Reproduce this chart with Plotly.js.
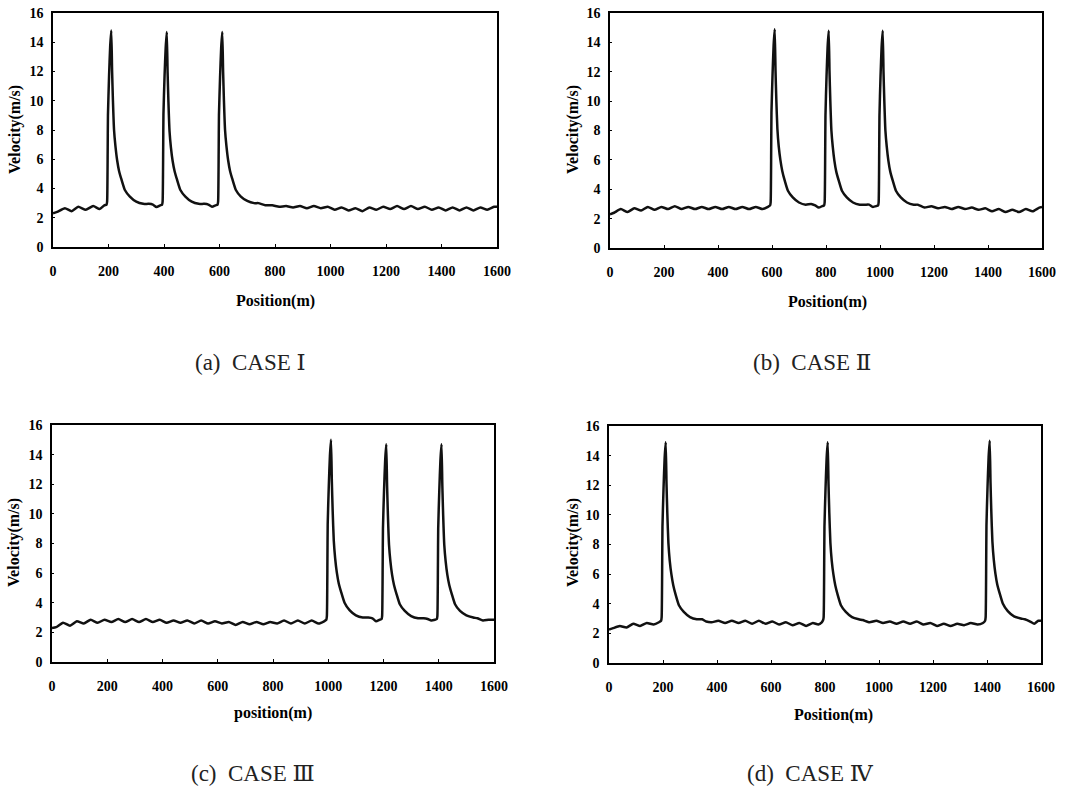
<!DOCTYPE html>
<html>
<head>
<meta charset="utf-8">
<script src="https://cdn.plot.ly/plotly-3.0.1.min.js"></script>
<style>
html,body{margin:0;padding:0;background:#fff;}
#chart{width:1076px;height:788px;}
</style>
</head>
<body>
<div id="chart"></div>
<script>
// ---------- DATA ----------
var xTickVals = [0,200,400,600,800,1000,1200,1400,1600];
var yTickVals = [0,2,4,6,8,10,12,14,16];
var captions = ["(a)  CASE Ⅰ", "(b)  CASE Ⅱ", "(c)  CASE Ⅲ", "(d)  CASE Ⅳ"];
var xTitles = ["Position(m)", "Position(m)", "position(m)", "Position(m)"];
var yTitle = "Velocity(m/s)";

// CASE I : peaks near 200, 400, 600 m
var xA = [0,15,43,67,91,118,145,168,185,
  193,195,197,198,202,206,210,213,216,220,225,231,238,247,259,277,300,325,345,360,373,386,
  393,395,397,398,402,406,410,413,416,420,425,431,438,447,459,477,500,525,545,560,573,586,
  593,595,597,598,602,606,610,613,616,620,625,631,638,647,659,677,700,725,
  740,765,790,815,840,865,890,915,940,965,990,1015,1040,1065,1090,1115,1140,1165,1190,1215,
  1240,1265,1290,1315,1340,1365,1390,1415,1440,1465,1490,1515,1540,1565,1590,1600];
var yA = [2.3,2.4,2.65,2.45,2.75,2.55,2.8,2.6,2.85,
  2.9,3.1,6.5,9.0,11.7,13.7,14.8,12.0,10.0,8.0,6.9,5.95,5.2,4.6,3.9,3.45,3.1,2.95,2.95,2.9,2.73,2.85,
  2.9,3.1,6.6,9.1,11.7,13.6,14.7,11.9,9.9,7.9,6.8,5.9,5.2,4.6,3.9,3.45,3.1,2.95,2.95,2.9,2.75,2.85,
  2.9,3.1,6.5,9.0,11.6,13.6,14.7,12.0,10.0,8.0,6.9,5.95,5.2,4.6,3.9,3.45,3.15,3.0,
  3.0,2.85,2.85,2.75,2.8,2.7,2.8,2.65,2.8,2.65,2.75,2.55,2.7,2.5,2.65,2.45,2.7,2.55,2.75,2.6,
  2.8,2.6,2.8,2.6,2.75,2.55,2.7,2.5,2.7,2.5,2.7,2.5,2.7,2.55,2.75,2.75];

// CASE II : peaks near 600, 800, 1000 m
var xB = [0,15,40,65,90,115,140,165,190,215,240,265,290,315,340,365,390,415,440,465,490,515,540,565,585,
  593,595,597,598,602,606,610,613,616,620,625,631,638,647,659,677,700,725,745,760,773,786,
  793,795,797,798,802,806,810,813,816,820,825,831,838,847,859,877,900,925,945,960,973,986,
  993,995,997,998,1002,1006,1010,1013,1016,1020,1025,1031,1038,1047,1059,1077,1100,1125,
  1140,1165,1190,1215,1240,1265,1290,1315,1340,1365,1390,1415,1440,1465,1490,1515,1540,1565,1590,1600];
var yB = [2.3,2.4,2.65,2.45,2.7,2.55,2.8,2.6,2.8,2.65,2.85,2.65,2.8,2.65,2.8,2.65,2.8,2.65,2.8,2.65,2.8,2.65,2.8,2.65,2.8,
  2.9,3.1,6.7,9.2,11.8,13.8,14.9,12.1,10.1,8.1,6.9,6.0,5.25,4.6,3.9,3.45,3.1,2.95,3.0,2.9,2.75,2.85,
  2.9,3.1,6.5,9.0,11.7,13.7,14.8,12.0,10.0,8.0,6.9,5.95,5.2,4.6,3.9,3.45,3.1,2.95,2.95,2.95,2.8,2.85,
  2.9,3.1,6.5,9.0,11.7,13.7,14.8,12.0,10.0,8.0,6.9,5.95,5.2,4.6,3.9,3.45,3.1,2.95,
  2.95,2.75,2.85,2.7,2.8,2.65,2.8,2.65,2.75,2.6,2.7,2.5,2.65,2.45,2.6,2.45,2.65,2.5,2.75,2.8];

// CASE III : peaks near 1000, 1200, 1400 m
var xC = [0,15,40,65,90,115,140,165,190,215,240,265,290,315,340,365,390,415,440,465,490,515,540,565,590,
  615,640,665,690,715,740,765,790,815,840,865,890,915,940,965,985,
  993,995,997,998,1002,1006,1010,1013,1016,1020,1025,1031,1038,1047,1059,1077,1100,1125,1145,1160,1173,1186,
  1193,1195,1197,1198,1202,1206,1210,1213,1216,1220,1225,1231,1238,1247,1259,1277,1300,1325,1345,1360,1373,1386,
  1393,1395,1397,1398,1402,1406,1410,1413,1416,1420,1425,1431,1438,1447,1459,1477,1500,1525,
  1540,1560,1580,1600];
var yC = [2.3,2.35,2.65,2.45,2.75,2.6,2.85,2.65,2.85,2.7,2.9,2.7,2.9,2.7,2.9,2.7,2.85,2.65,2.8,2.65,2.8,2.6,2.8,2.6,2.75,
  2.6,2.7,2.5,2.7,2.55,2.7,2.55,2.7,2.6,2.8,2.6,2.8,2.6,2.8,2.6,2.75,
  2.85,3.1,6.8,9.3,11.9,13.9,15.0,12.2,10.2,8.2,7.0,6.05,5.3,4.7,4.0,3.5,3.15,3.0,3.0,2.95,2.75,2.85,
  2.9,3.1,6.5,9.0,11.6,13.6,14.7,11.9,9.9,7.9,6.8,5.9,5.2,4.6,3.9,3.45,3.1,2.95,2.95,2.9,2.8,2.85,
  2.9,3.1,6.5,9.0,11.6,13.6,14.7,11.9,9.9,7.9,6.8,5.9,5.2,4.6,3.9,3.45,3.15,3.0,
  2.95,2.8,2.85,2.85];

// CASE IV : peaks near 200, 800, 1400 m
var xD = [0,15,40,65,90,115,140,165,185,
  193,195,197,198,202,206,210,213,216,220,225,231,238,247,259,277,300,325,
  345,360,380,405,430,455,480,505,530,555,580,605,630,655,680,705,730,755,775,788,
  793,795,797,798,802,806,810,813,816,820,825,831,838,847,859,877,900,925,
  940,965,990,1015,1040,1065,1090,1115,1140,1165,1190,1215,1240,1265,1290,1315,1340,1365,1385,
  1393,1395,1397,1398,1402,1406,1410,1413,1416,1420,1425,1431,1438,1447,1459,1477,1500,1525,
  1540,1560,1575,1590,1600];
var yD = [2.25,2.35,2.5,2.4,2.65,2.5,2.7,2.6,2.75,
  2.85,3.1,6.7,9.2,11.8,13.8,14.9,12.1,10.1,8.1,6.9,6.0,5.25,4.6,3.9,3.45,3.1,2.95,
  2.95,2.8,2.75,2.85,2.7,2.85,2.7,2.85,2.65,2.85,2.65,2.8,2.6,2.75,2.55,2.7,2.5,2.7,2.6,2.75,
  2.9,3.1,6.7,9.2,11.8,13.8,14.9,12.1,10.1,8.1,6.9,6.0,5.25,4.6,3.9,3.45,3.1,2.95,
  2.9,2.75,2.85,2.7,2.8,2.65,2.8,2.65,2.8,2.6,2.7,2.5,2.65,2.5,2.65,2.55,2.7,2.6,2.7,
  2.85,3.1,6.8,9.3,11.9,13.9,15.0,12.2,10.2,8.2,7.0,6.05,5.3,4.7,4.0,3.5,3.15,3.0,
  2.95,2.8,2.65,2.85,2.85];

// ---------- LAYOUT ----------
var W = 1076, H = 788;
// plot-area pixel boxes [left, right, top, bottom]
var boxes = [[53,497,13,247],[610,1042,13,248],[52,494,425,662],[609,1041,426,663]];
var xTitlePos = [[275,301],[827,302],[273,713],[833,715]];
var yTitlePos = [[15,130],[573,130],[14,543],[573,543]];
var capPos = [[250,362],[812,362],[253,773],[810,773]];

var xs = [xA,xB,xC,xD], ys = [yA,yB,yC,yD];
var serif = "Liberation Serif, Times New Roman, DejaVu Serif, serif";

var data = [], annotations = [];
var layout = {
  width: W, height: H,
  margin: {l:0,r:0,t:0,b:0},
  paper_bgcolor: "#ffffff", plot_bgcolor: "#ffffff",
  showlegend: false,
  font: {family: serif, color: "#000"}
};

for (var i = 0; i < 4; i++) {
  var sfx = i === 0 ? "" : String(i+1);
  var b = boxes[i];
  data.push({
    type: "scatter", mode: "lines",
    x: xs[i], y: ys[i],
    xaxis: "x" + sfx, yaxis: "y" + sfx,
    line: {color: "#111", width: 2.5, shape: "spline", smoothing: 0.5},
    hoverinfo: "skip"
  });
  layout["xaxis" + sfx] = {
    domain: [b[0]/W, b[1]/W],
    anchor: "y" + sfx,
    range: [0, 1600], autorange: false,
    tickvals: xTickVals, ticktext: xTickVals.map(function(v){return "<b>"+v+"</b>";}),
    ticks: "inside", ticklen: 3, tickwidth: 1, tickcolor: "#000",
    ticklabelstandoff: 11,
    tickfont: {family: serif, size: 14, color: "#000"},
    showgrid: false, zeroline: false,
    showline: true, linecolor: "#000", linewidth: 1.6, mirror: true,
    fixedrange: true
  };
  layout["yaxis" + sfx] = {
    domain: [1 - b[3]/H, 1 - b[2]/H],
    anchor: "x" + sfx,
    range: [0, 16], autorange: false,
    tickvals: yTickVals, ticktext: yTickVals.map(function(v){return "<b>"+v+"</b>";}),
    ticks: "inside", ticklen: 2, tickwidth: 1, tickcolor: "#000",
    ticklabelstandoff: 5,
    tickfont: {family: serif, size: 14, color: "#000"},
    showgrid: false, zeroline: false,
    showline: true, linecolor: "#000", linewidth: 1.6, mirror: true,
    fixedrange: true
  };
  annotations.push({
    xref: "paper", yref: "paper",
    x: xTitlePos[i][0]/W, y: 1 - xTitlePos[i][1]/H,
    xanchor: "center", yanchor: "middle", showarrow: false,
    text: "<b>" + xTitles[i] + "</b>",
    font: {family: serif, size: 16, color: "#000"}
  });
  annotations.push({
    xref: "paper", yref: "paper",
    x: yTitlePos[i][0]/W, y: 1 - yTitlePos[i][1]/H,
    xanchor: "center", yanchor: "middle", showarrow: false,
    textangle: -90,
    text: "<b>" + yTitle + "</b>",
    font: {family: serif, size: 16, color: "#000"}
  });
  annotations.push({
    xref: "paper", yref: "paper",
    x: capPos[i][0]/W, y: 1 - capPos[i][1]/H,
    xanchor: "center", yanchor: "middle", showarrow: false,
    text: captions[i],
    font: {family: serif, size: 23, color: "#222"}
  });
}
layout.annotations = annotations;

Plotly.newPlot("chart", data, layout, {staticPlot: true, displayModeBar: false});
</script>
</body>
</html>
